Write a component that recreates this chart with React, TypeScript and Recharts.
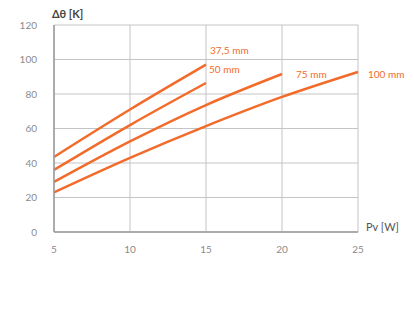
import React from "react"
import { LineChart, Line, XAxis, YAxis, CartesianGrid, Label } from "recharts"

// power loss Pv [W] along each curve
const power375 = [5, 10, 15]
const power50 = [5, 10, 15]
const power75 = [5, 10, 15, 20]
const power100 = [5, 10, 15, 20, 25]

// temperature rise Δθ [K]
const rise375 = [43.5, 71, 97]
const rise50 = [36, 62, 86.4]
const rise75 = [29, 52.5, 73.6, 91.6]
const rise100 = [23, 43, 61.4, 78.3, 92.8]

const seriesNames = ["37,5 mm", "50 mm", "75 mm", "100 mm"]
const xTicks = [5, 10, 15, 20, 25]
const yTicks = [0, 20, 40, 60, 80, 100, 120]

const toPoints = (xs: number[], ys: number[]) => xs.map((x, i) => ({ x, y: ys[i] }))

const series = [
  toPoints(power375, rise375),
  toPoints(power50, rise50),
  toPoints(power75, rise75),
  toPoints(power100, rise100),
]

// label placement next to the end of each curve
const labelOffsets = [
  { dx: 4, dy: -13 },
  { dx: 3, dy: -12 },
  { dx: 14, dy: 1 },
  { dx: 10, dy: 4 },
]

const ORANGE = "#f26b2a"
const FONT = "Lato, 'Open Sans', sans-serif"

export default function App() {
  return (
    <div style={{ position: "absolute", left: 0, top: 0, width: 414, height: 315, background: "#fff", fontFamily: FONT }}>
      <LineChart width={414} height={315} margin={{ top: 25, right: 56, bottom: 53, left: 0 }}>
        <CartesianGrid stroke="#c4c4c4" strokeWidth={1} />
        <XAxis
          type="number"
          dataKey="x"
          domain={[5, 25]}
          ticks={xTicks}
          height={30}
          tickLine={false}
          axisLine={{ stroke: "#9a9a9a", strokeWidth: 1.5 }}
          tick={{ fill: "#8a8a8a", fontSize: 10, fontFamily: FONT }}
          tickMargin={8}
          allowDuplicatedCategory={false}
        >
          <Label
            content={({ viewBox }: any) => (
              <text x={viewBox.x + viewBox.width + 8} y={viewBox.y - 1} fill="#555" fontSize={11} fontFamily={FONT}>
                Pv [W]
              </text>
            )}
          />
        </XAxis>
        <YAxis
          type="number"
          domain={[0, 120]}
          ticks={yTicks}
          width={54}
          tickLine={false}
          axisLine={{ stroke: "#9a9a9a", strokeWidth: 1.5 }}
          tick={{ fill: "#8a8a8a", fontSize: 10, fontFamily: FONT }}
          tickMargin={11}
        >
          <Label
            content={({ viewBox }: any) => (
              <text x={viewBox.x + viewBox.width - 2} y={viewBox.y - 7} fill="#444" fontSize={11} fontWeight="bold" fontFamily={FONT}>
                Δθ [K]
              </text>
            )}
          />
        </YAxis>
        {series.map((pts, i) => (
          <Line
            key={seriesNames[i]}
            type="monotone"
            data={pts}
            dataKey="y"
            stroke={ORANGE}
            strokeWidth={2.5}
            dot={false}
            isAnimationActive={false}
            label={(props: any) =>
              props.index === pts.length - 1 ? (
                <text
                  key={seriesNames[i]}
                  x={props.x + labelOffsets[i].dx}
                  y={props.y + labelOffsets[i].dy}
                  fill={ORANGE}
                  fontSize={10}
                  fontFamily={FONT}
                  dominantBaseline="middle"
                >
                  {seriesNames[i]}
                </text>
              ) : (
                <g key={seriesNames[i] + props.index} />
              )
            }
          />
        ))}
      </LineChart>
    </div>
  )
}
